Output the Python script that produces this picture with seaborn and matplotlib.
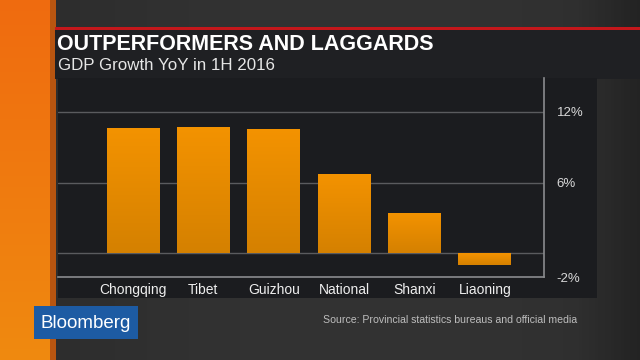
"""Bloomberg TV style bar chart: GDP growth YoY in 1H 2016."""
import matplotlib
matplotlib.use("Agg")
import matplotlib.pyplot as plt
from matplotlib.patches import Rectangle
import numpy as np
import seaborn as sns

REGIONS = ["Chongqing", "Tibet", "Guizhou", "National", "Shanxi", "Liaoning"]
GROWTH = [10.6, 10.7, 10.5, 6.7, 3.4, -1.0]
YTICKS = [-2, 6, 12]
YTICK_LABELS = ["-2%", "6%", "12%"]

TITLE = "OUTPERFORMERS AND LAGGARDS"
SUBTITLE = "GDP Growth YoY in 1H 2016"
SOURCE = "Source: Provincial statistics bureaus and official media"

W, H = 640, 360


def px(x, y):
    """pixel coords (top-left origin) -> figure fraction"""
    return x / W, 1 - y / H


sns.set_theme(style="dark")
plt.rcParams["font.family"] = ["Liberation Sans", "DejaVu Sans"]

fig = plt.figure(figsize=(6.4, 3.6), dpi=100)

# background: dark studio gradient
bg = fig.add_axes([0, 0, 1, 1], zorder=0)
bg.set_axis_off()
xs = np.linspace(0, 1, 200)
ys = np.linspace(0, 1, 100)
gx, gy = np.meshgrid(xs, ys)
shade = 0.17 + 0.03 * np.sin(gx * np.pi * 0.9) - 0.04 * np.clip(gx - 0.9, 0, 1) * 10
img = np.dstack([shade, shade, shade])
bg.imshow(img, extent=[0, W, H, 0], aspect="auto")
bg.set_xlim(0, W)
bg.set_ylim(H, 0)

# orange side strip
strip = np.linspace(0, 1, 100)[:, None]
orange = np.dstack([0.94 + 0.0 * strip, 0.42 + 0.12 * strip, 0.06 + 0.0 * strip])
bg.imshow(orange, extent=[0, 50, H, 0], aspect="auto")
bg.add_patch(Rectangle((50, 0), 6, H, color="#b85510", lw=0))

# header band with red rule
bg.add_patch(Rectangle((55, 29), W - 55, 50, color="#1f2023", lw=0))
bg.add_patch(Rectangle((55, 27), W - 55, 3, color="#c4171b", lw=0))
# chart panel
bg.add_patch(Rectangle((58, 78), 539, 220, color="#1b1c1f", lw=0))

# Bloomberg logo box
bg.add_patch(Rectangle((34, 306), 104, 33, color="#1d5ba3", lw=0))
bg.text(86, 323, "Bloomberg", color="white", fontsize=13.5,
        ha="center", va="center")

bg.text(57, 45, TITLE, color="white", fontsize=15.5, fontweight="bold",
        va="center", ha="left")
bg.text(58, 66, SUBTITLE, color="#e6e6e6", fontsize=12.2,
        va="center", ha="left")
bg.text(577, 320, SOURCE, color="#bdbdbd", fontsize=7.6, va="center", ha="right")

# main chart
l, b = px(58, 277)
r, t = px(544, 78)
ax = fig.add_axes([l, b, r - l, t - b], zorder=2)
ax.set_facecolor("none")

sns.barplot(x=REGIONS, y=GROWTH, ax=ax, color="#f39200", saturation=1,
            width=0.75, edgecolor="none")

# vertical gradient on each bar
grad = np.linspace(0, 1, 64)[:, None]
bar_rgb = np.dstack([0.955 - 0.12 * grad, 0.575 - 0.07 * grad, 0.0 * grad])
for patch in ax.patches:
    x0, y0 = patch.get_x(), patch.get_y()
    w, h = patch.get_width(), patch.get_height()
    top, bot = max(y0, y0 + h), min(y0, y0 + h)
    im = ax.imshow(bar_rgb, extent=[x0, x0 + w, bot, top], aspect="auto",
                   origin="upper", zorder=3)
    im.set_clip_path(patch)

ax.set_xlim(-1.065, 5.84)
ax.set_ylim(-2, 14.85)

for yv in [0, 6, 12]:
    ax.axhline(yv, color="#5a5b5e", lw=1, zorder=1)

ax.yaxis.tick_right()
ax.set_yticks(YTICKS)
ax.set_yticklabels(YTICK_LABELS)
ax.tick_params(axis="y", length=0, pad=9, labelsize=9.5, labelcolor="#d8d8d8")
ax.tick_params(axis="x", length=0, pad=4, labelsize=10, labelcolor="#eeeeee")
ax.set_xlabel("")
ax.set_ylabel("")
ax.grid(False)

for side in ["top", "left"]:
    ax.spines[side].set_visible(False)
for side in ["right", "bottom"]:
    ax.spines[side].set_visible(True)
    ax.spines[side].set_color("#8a8b8e")
    ax.spines[side].set_linewidth(1.2)

fig.savefig("out.png", dpi=100)
